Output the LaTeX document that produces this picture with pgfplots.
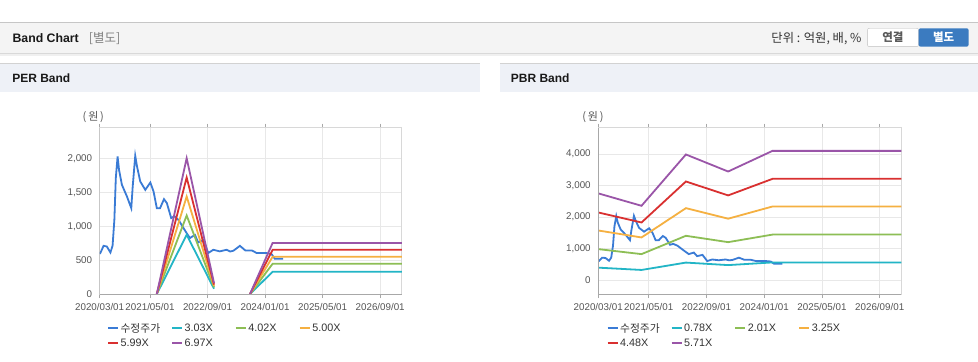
\documentclass[border=0pt]{standalone}
\usepackage{fontspec}
\setmainfont{Liberation Sans}
\newfontfamily\kr{Noto Sans CJK KR}
\usepackage{pgfplots}
\usepackage{pgfplotstable}
\pgfplotsset{compat=1.18}

\definecolor{pblue}{HTML}{3A7BD5}
\definecolor{pcyan}{HTML}{22B5C6}
\definecolor{pgreen}{HTML}{8DBE55}
\definecolor{porange}{HTML}{F5B041}
\definecolor{pred}{HTML}{D93030}
\definecolor{ppurple}{HTML}{9A55A8}
\definecolor{gridc}{HTML}{E8E8E8}
\definecolor{framec}{HTML}{D8D8D8}
\definecolor{framed}{HTML}{A8A8A8}
\definecolor{tickc}{HTML}{555555}
\definecolor{legc}{HTML}{333333}
\definecolor{hdr}{HTML}{F4F4F4}
\definecolor{phdr}{HTML}{EEF1F7}
\definecolor{btnblue}{HTML}{3B7BC0}

\pgfplotstableread{
m v
0.0 595
0.2 605
1.1 712
2.0 702
3.0 614
3.6 712
4.1 1096
4.5 1711
5.0 2030
5.4 1833
6.2 1612
7.6 1440
8.8 1268
9.2 1587
9.9 2040
10.4 1883
11.3 1661
12.7 1538
14.1 1646
15.0 1513
15.9 1268
16.8 1268
17.9 1401
18.7 1342
19.9 1121
20.8 1150
22.0 1090
22.9 1010
24.2 899
25.1 826
26.5 874
27.4 761
28.9 800
30.2 605
31.6 654
33.4 630
35.3 654
36.3 628
37.2 640
39.0 712
40.5 644
42.3 644
43.7 605
46.4 605
47.8 590
48.7 521
51.0 521
}\price

\pgfplotstableread{
m a b c d e
15.9 0 0 0 0 0
24.2 875 1160 1440 1720 2005
31.8 79 100 122 140 164
36.0 nan nan nan nan nan
41.8 0 0 0 0 0
48.1 329 447 550 653 755
84.0 329 447 550 653 755
}\perband

\pgfplotstableread{
m a b c d e
0.0 395 984 1576 2148 2755
12.0 322 825 1354 1830 2360
24.3 556 1407 2285 3132 3990
36.0 476 1205 1950 2690 3449
48.3 561 1445 2338 3216 4105
84.0 561 1445 2338 3216 4105
}\pbrband

\pgfplotsset{
  bandaxis/.style={
    scale only axis, width=302.4pt, height=166.6pt, anchor=south west,
    xmin=0, xmax=84,
    xtick={0,14,30,46,62,78},
    xticklabels={2020/03/01,2021/05/01,2022/09/01,2024/01/01,2025/05/01,2026/09/01},
    grid=major, major grid style={gridc, line width=0.6pt},
    axis line style={framec, line width=0.8pt},
    tick label style={font=\fontsize{9.8}{11}\selectfont, text=tickc},
    x tick label style={yshift=-2pt},
    xtick style={draw=framed, line width=0.6pt}, tick align=outside, major tick length=4pt,
    ytick style={draw=none},
    /pgf/number format/assume math mode=true,
    /pgf/number format/1000 sep={,},
    unbounded coords=jump,
    legend columns=4,
    legend cell align=left,
    legend image code/.code={\draw[##1, line width=2pt] (0pt,0pt) -- (10pt,0pt);},
    legend style={draw=none, fill=none, anchor=north west,
      font=\fontsize{10.8}{12}\selectfont, text=legc, inner sep=0pt,
      nodes={inner sep=1.5pt}, row sep=2pt},
    every axis plot/.append style={line width=1.8pt},
  }
}
\newcommand{\lt}[1]{\makebox[49pt][l]{#1}}

\begin{document}
\begin{tikzpicture}[x=1pt,y=1pt]
\fill[white] (0,0) rectangle (978,362);
% top header bar
\fill[hdr] (0,309) rectangle (978,339.3);
\draw[gray!45, line width=0.8pt] (0,339.3) -- (978,339.3);
\fill[gray!30] (0,308) rectangle (978,309);
\fill[gray!12] (0,306) rectangle (978,308);
\node[anchor=west, inner sep=0pt, font=\bfseries\fontsize{12.3}{14}\selectfont, text=black!90] at (12,323.7) {Band Chart};
\node[anchor=west, inner sep=0pt, font=\kr\fontsize{12.5}{14}\selectfont, text=gray] at (88.3,323.7) {[별도]};
\node[anchor=east, inner sep=0pt, font=\kr\fontsize{12.3}{14}\selectfont, text=legc] at (862,323.7) {단위 : 억원, 배, \%};
\draw[fill=white, draw=gray!50, rounded corners=2pt] (867.7,315.3) rectangle (919,333.7);
\node[font=\kr\bfseries\fontsize{11.5}{13}\selectfont, text=black!65] at (893.3,324.5) {연결};
\fill[btnblue, rounded corners=2pt] (919,315.3) rectangle (969,333.7);
\node[font=\kr\bfseries\fontsize{11.5}{13}\selectfont, text=white] at (944,324.5) {별도};
% panel headers
\fill[phdr] (0,270.3) rectangle (480,298.7);
\draw[gray!35, line width=0.8pt] (0,298.7) -- (480,298.7);
\fill[phdr] (500,270.3) rectangle (978,298.7);
\draw[gray!35, line width=0.8pt] (500,298.7) -- (978,298.7);
\node[anchor=west, inner sep=0pt, font=\bfseries\fontsize{12}{14}\selectfont, text=black!90] at (11.7,283.7) {PER Band};
\node[anchor=west, inner sep=0pt, font=\bfseries\fontsize{12}{14}\selectfont, text=black!90] at (510.7,283.7) {PBR Band};
\node[inner sep=0pt, font=\kr\fontsize{11}{13}\selectfont, text=tickc] at (93,245) {(\,원\,)};
\node[inner sep=0pt, font=\kr\fontsize{11}{13}\selectfont, text=tickc] at (593,245) {(\,원\,)};

% PER axis
\begin{axis}[bandaxis, at={(99.3pt,67.7pt)},
  ymin=0, ymax=2457, ytick={0,500,1000,1500,2000},
  legend style={at={(axis description cs:0.024,-0.165)}}]
\addplot[pblue] table[x=m,y=v]{\price};
\addlegendentry{\lt{\kr 수정주가}}
\addplot[pcyan] table[x=m,y=a]{\perband};
\addlegendentry{\lt{3.03X}}
\addplot[pgreen] table[x=m,y=b]{\perband};
\addlegendentry{\lt{4.02X}}
\addplot[porange] table[x=m,y=c]{\perband};
\addlegendentry{\lt{5.00X}}
\addplot[pred] table[x=m,y=d]{\perband};
\addlegendentry{\lt{5.99X}}
\addplot[ppurple] table[x=m,y=e]{\perband};
\addlegendentry{\lt{6.97X}}
\draw[framed, line width=0.8pt] (rel axis cs:0,1) -- (rel axis cs:0,0) -- (rel axis cs:1,0);
\end{axis}

% PBR axis
\begin{axis}[bandaxis, at={(598.3pt,67.7pt)}, width=303.4pt,
  ymin=-444, ymax=4844, ytick={0,1000,2000,3000,4000},
  legend style={at={(axis description cs:0.027,-0.165)}}]
\addplot[pblue] table[x=m,y=v]{\price};
\addlegendentry{\lt{\kr 수정주가}}
\addplot[pcyan] table[x=m,y=a]{\pbrband};
\addlegendentry{\lt{0.78X}}
\addplot[pgreen] table[x=m,y=b]{\pbrband};
\addlegendentry{\lt{2.01X}}
\addplot[porange] table[x=m,y=c]{\pbrband};
\addlegendentry{\lt{3.25X}}
\addplot[pred] table[x=m,y=d]{\pbrband};
\addlegendentry{\lt{4.48X}}
\addplot[ppurple] table[x=m,y=e]{\pbrband};
\addlegendentry{\lt{5.71X}}
\draw[framed, line width=0.8pt] (rel axis cs:0,1) -- (rel axis cs:0,0) -- (rel axis cs:1,0);
\end{axis}
\end{tikzpicture}
\end{document}
